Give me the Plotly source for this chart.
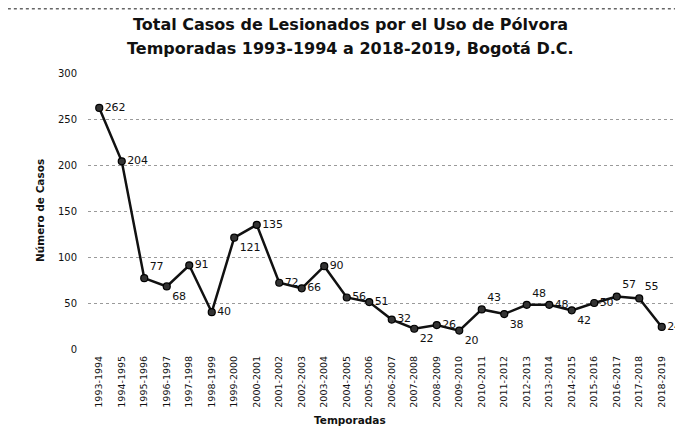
import plotly.graph_objects as go

# seasons and injured cases
temporadas = [
    "1993-1994", "1994-1995", "1995-1996", "1996-1997", "1997-1998", "1998-1999",
    "1999-2000", "2000-2001", "2001-2002", "2002-2003", "2003-2004", "2004-2005",
    "2005-2006", "2006-2007", "2007-2008", "2008-2009", "2009-2010", "2010-2011",
    "2011-2012", "2012-2013", "2013-2014", "2014-2015", "2015-2016", "2016-2017",
    "2017-2018", "2018-2019",
]
casos = [262, 204, 77, 68, 91, 40, 121, 135, 72, 66, 90, 56, 51, 32, 22, 26, 20,
         43, 38, 48, 48, 42, 50, 57, 55, 24]

# where each value label sits relative to its point
posiciones = [
    "middle right", "middle right", "top right", "bottom right", "middle right",
    "middle right", "bottom right", "middle right", "middle right", "middle right",
    "middle right", "middle right", "middle right", "middle right", "bottom right",
    "middle right", "bottom right", "top right", "bottom right", "top right",
    "middle right", "bottom right", "middle right", "top right", "top right",
    "middle right",
]

FONT = "'DejaVu Sans', sans-serif"

fig = go.Figure()
fig.add_trace(go.Scatter(
    x=temporadas, y=casos,
    mode="lines+markers+text",
    line=dict(color="#111111", width=2.5),
    marker=dict(size=7, color="#333333", line=dict(color="#000000", width=1.2)),
    text=[str(v) for v in casos],
    textposition=posiciones,
    textfont=dict(family=FONT, size=11, color="#111111"),
    cliponaxis=False,
    showlegend=False,
))

# the page adds an 8px margin, so the figure is sized to the remaining area
fig.update_layout(
    width=675, height=434,
    paper_bgcolor="white", plot_bgcolor="white",
    margin=dict(l=80, r=10, t=65, b=93),
    font=dict(family=FONT, color="#111111"),
    xaxis=dict(
        type="category", automargin=False, range=[-0.5, 25.5],
        tickangle=-90, ticklabelstandoff=4,
        tickfont=dict(family=FONT, size=9.5, color="#111111"),
        showgrid=False, showline=False, ticks="", zeroline=False,
    ),
    yaxis=dict(
        range=[0, 300], dtick=50, automargin=False,
        showgrid=True, gridcolor="#9a9a9a", griddash="dot", gridwidth=1,
        zeroline=False, showline=False,
        tickfont=dict(family=FONT, size=10, color="#111111"),
        ticklabelstandoff=10,
    ),
    shapes=[dict(
        type="line", xref="paper", yref="paper", x0=-0.137, x1=1.017, y0=1.233, y1=1.233,
        line=dict(color="#666666", width=1.5, dash="dot"),
    )],
    annotations=[
        dict(text="<b>Total Casos de Lesionados por el Uso de Pólvora</b>",
             xref="paper", x=0.448, yref="paper", y=1.174, showarrow=False,
             xanchor="center", yanchor="middle",
             font=dict(family=FONT, size=16, color="#111111")),
        dict(text="<b>Temporadas 1993-1994 a 2018-2019, Bogotá D.C.</b>",
             xref="paper", x=0.448, yref="paper", y=1.087, showarrow=False,
             xanchor="center", yanchor="middle",
             font=dict(family=FONT, size=16, color="#111111")),
        dict(text="<b>Número de Casos</b>", textangle=-90,
             xref="paper", x=-0.082, yref="paper", y=0.5,
             xanchor="center", yanchor="middle",
             showarrow=False, font=dict(family=FONT, size=10.5)),
        dict(text="<b>Temporadas</b>",
             xref="paper", x=0.448, yref="paper", y=-0.257,
             xanchor="center", yanchor="middle",
             showarrow=False, font=dict(family=FONT, size=10.5)),
    ],
)

fig.write_html("out.html")
